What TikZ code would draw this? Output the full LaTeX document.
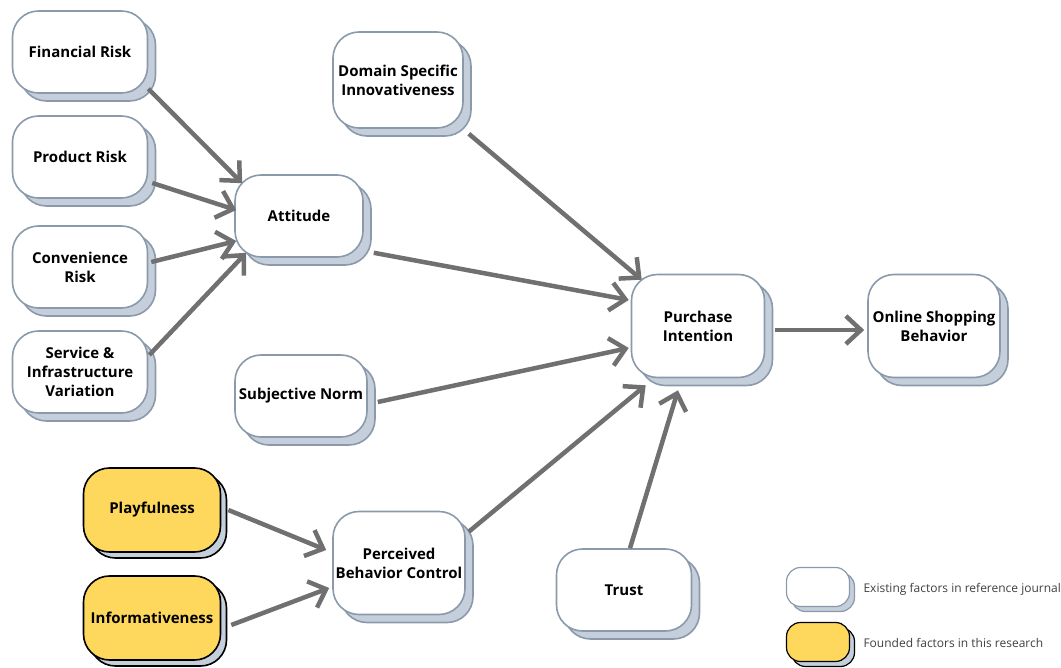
\documentclass[tikz,border=0pt]{standalone}
\usepackage{fontspec}
\setmainfont{Open Sans}
\usepackage{tikz}
\usepackage{xcolor}
\usetikzlibrary{shadows, arrows.meta}
\definecolor{Edge-A}{RGB}{138, 154, 171}
\definecolor{Shade-A}{RGB}{197, 207, 219}
\definecolor{Yellow-A}{RGB}{253, 216, 93}
\definecolor{Arrow-A}{RGB}{112, 112, 112}

\begin{document}
\begin{tikzpicture}[x=1pt, y=-1pt,
    font=\fontsize{15}{19}\selectfont\bfseries,
    box/.style={line width=1.6pt, rounded corners=26pt, minimum width=135pt,
        minimum height=82pt, inner sep=0pt, align=center},
    factor/.style={box, draw=Edge-A, fill=white,
        copy shadow={shadow xshift=8pt, shadow yshift=-8pt, fill=Shade-A, draw=Edge-A}},
    newfactor/.style={box, draw=black, fill=Yellow-A,
        copy shadow={shadow xshift=6pt, shadow yshift=-6pt, fill=Shade-A, draw=black}},
    keybox/.style={box, minimum width=63pt, minimum height=39pt, rounded corners=14pt, line width=1.2pt},
    keytext/.style={anchor=west, font=\fontsize{12}{14}\selectfont, text=black!75},
    link/.style={draw=Arrow-A, line width=4.5pt,
        -{Straight Barb[length=15pt, width=28pt]}}]

    \path[use as bounding box] (0,0) rectangle (1061,668);

    % existing factors
    \node[factor] (financial) at (80,52) {Financial Risk};
    \node[factor] (product) at (80,157) {Product Risk};
    \node[factor] (convenience) at (80,267) {Convenience\\Risk};
    \node[factor] (service) at (80,372) {Service \&\\Infrastructure\\Variation};

    \node[factor, minimum width=128pt] (attitude) at (299,216) {Attitude};
    \node[factor, minimum width=132pt] (subjective) at (301,396) {Subjective Norm};
    \node[factor, minimum width=130pt, minimum height=96pt] (domain) at (398,80) {Domain Specific\\Innovativeness};
    \node[factor, minimum width=132pt, minimum height=103pt] (perceived) at (399,563) {Perceived\\Behavior Control};

    \node[factor, minimum width=133pt, minimum height=103pt] (intention) at (698,326) {Purchase\\Intention};
    \node[factor, minimum width=132pt, minimum height=103pt] (behavior) at (934,326) {Online Shopping\\Behavior};
    \node[factor] (trust) at (624,590) {Trust};

    % factors of this research
    \node[newfactor, minimum width=137pt, minimum height=84pt] (playful) at (152,510) {Playfulness};
    \node[newfactor, minimum width=137pt, minimum height=84pt] (informative) at (152,618) {Informativeness};

    % connectors
    \draw[link] ([yshift=5pt]financial.south east) -- ([xshift=8pt, yshift=-9pt]attitude.north west);
    \draw[link] ([xshift=4pt, yshift=-26pt]product.east) -- ([xshift=2pt, yshift=6pt]attitude.west);
    \draw[link] ([xshift=3pt, yshift=5pt]convenience.east) -- ([xshift=2pt, yshift=-25pt]attitude.west);
    \draw[link] ([xshift=1pt, yshift=17pt]service.east) -- ([xshift=12pt, yshift=5pt]attitude.south west);

    \draw[link] ([xshift=10pt, yshift=5pt]attitude.south east) -- ([xshift=-2pt, yshift=26pt]intention.west);
    \draw[link] ([xshift=5pt, yshift=-5pt]domain.south east) -- ([xshift=11pt, yshift=-6pt]intention.north west);
    \draw[link] ([xshift=10pt, yshift=-6pt]subjective.east) -- ([xshift=-2pt, yshift=-22pt]intention.west);
    \draw[link] ([xshift=3pt, yshift=-21pt]perceived.north east) -- ([xshift=15pt, yshift=-7pt]intention.south west);
    \draw[link] ([xshift=6pt]trust.north) -- ([xshift=-20pt, yshift=-12pt]intention.south);
    \draw[link] ([xshift=10pt, yshift=-4pt]intention.east) -- ([xshift=-3pt, yshift=-4pt]behavior.west);

    \draw[link] ([xshift=7pt]playful.east) -- ([xshift=-6pt, yshift=13pt]perceived.west);
    \draw[link] ([xshift=10pt, yshift=-7pt]informative.east) -- ([xshift=-3pt, yshift=-25pt]perceived.west);

    % legend
    \node[keybox, draw=Edge-A, fill=white,
        copy shadow={shadow xshift=5pt, shadow yshift=-5pt, fill=Shade-A, draw=Edge-A}] (oldkey) at (818,587) {};
    \node[keybox, draw=black, fill=Yellow-A,
        copy shadow={shadow xshift=5pt, shadow yshift=-5pt, fill=Shade-A, draw=black}] (newkey) at (818,642) {};
    \node[keytext] (oldtext) at (860,589) {Existing factors in reference journal};
    \node[keytext] (newtext) at (860,643) {Founded factors in this research};

\end{tikzpicture}
\end{document}
